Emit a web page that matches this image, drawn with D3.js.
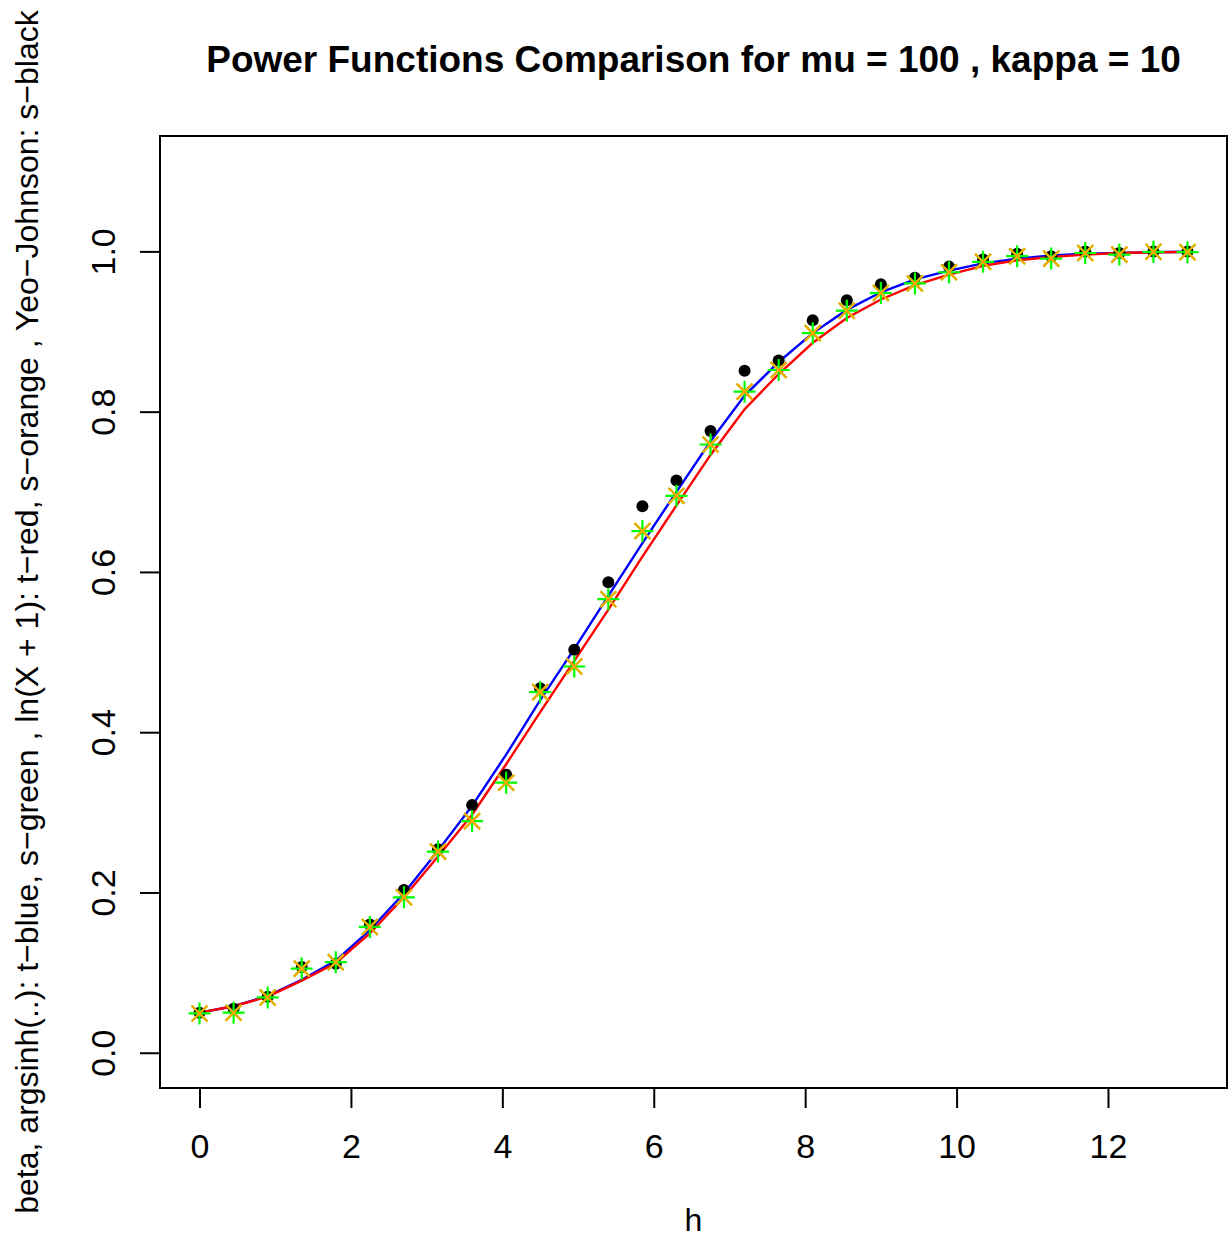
<!DOCTYPE html>
<html>
<head>
<meta charset="utf-8">
<script src="https://cdn.jsdelivr.net/npm/d3@7"></script>
<style>
  html, body { margin: 0; padding: 0; background: #fff; }
  svg { display: block; }
  text { font-family: "Liberation Sans", Arial, Helvetica, sans-serif; fill: #000; }
</style>
</head>
<body>
<svg id="chart" width="1228" height="1239"></svg>
<script>
// Shift values h at which the power functions were evaluated
const h = [0, 0.45, 0.9, 1.35, 1.8, 2.25, 2.7, 3.15, 3.6, 4.05, 4.5, 4.95, 5.4, 5.85, 6.3,
           6.75, 7.2, 7.65, 8.1, 8.55, 9, 9.45, 9.9, 10.35, 10.8, 11.25, 11.7, 12.15, 12.6, 13.05];

// Theoretical power, argsinh transform (blue line)
const theoryArgsinh = [0.050, 0.058, 0.071, 0.091, 0.115, 0.153, 0.199, 0.252, 0.308, 0.372,
                       0.440, 0.504, 0.570, 0.636, 0.700, 0.763, 0.820, 0.862, 0.898, 0.927,
                       0.949, 0.965, 0.976, 0.985, 0.991, 0.995, 0.997, 0.998, 0.999, 0.9995];

// Theoretical power, ln(X + 1) transform (red line)
const theoryLog = [0.050, 0.058, 0.070, 0.090, 0.112, 0.149, 0.194, 0.245, 0.297, 0.360,
                   0.425, 0.489, 0.553, 0.619, 0.683, 0.746, 0.803, 0.847, 0.886, 0.917,
                   0.940, 0.958, 0.971, 0.982, 0.989, 0.993, 0.996, 0.998, 0.999, 0.9993];

// Simulated power, argsinh transform (green)
const simArgsinh = [0.049, 0.050, 0.069, 0.105, 0.113, 0.157, 0.194, 0.251, 0.289, 0.337,
                    0.450, 0.482, 0.566, 0.651, 0.695, 0.759, 0.825, 0.852, 0.898, 0.926,
                    0.948, 0.960, 0.974, 0.987, 0.994, 0.991, 0.998, 0.996, 0.9995, 0.999];

// Simulated power, ln(X + 1) transform (orange)
const simLog = [0.049, 0.050, 0.069, 0.105, 0.113, 0.157, 0.194, 0.251, 0.289, 0.337,
                0.450, 0.482, 0.566, 0.651, 0.695, 0.759, 0.825, 0.852, 0.898, 0.926,
                0.948, 0.960, 0.974, 0.987, 0.994, 0.991, 0.998, 0.996, 0.9995, 0.999];

// Simulated power, Yeo-Johnson transform (black)
const simYeoJohnson = [0.050, 0.055, 0.070, 0.107, 0.111, 0.160, 0.203, 0.254, 0.309, 0.347,
                       0.455, 0.503, 0.587, 0.682, 0.714, 0.776, 0.851, 0.864, 0.914, 0.939,
                       0.959, 0.967, 0.981, 0.990, 0.997, 0.994, 1.000, 0.998, 1.000, 1.000];

const xTicks = [0, 2, 4, 6, 8, 10, 12];
const yTicks = [0, 0.2, 0.4, 0.6, 0.8, 1.0];

const titleText = "Power Functions Comparison for mu = 100 , kappa = 10";
const xLabel = "h";
const yLabel = "beta, argsinh(..): t\u2212blue, s\u2212green , ln(X + 1): t\u2212red, s\u2212orange , Yeo\u2212Johnson: s\u2212black";

// Plot region
const plot = { left: 160, right: 1227, top: 136, bottom: 1088 };

// Domains padded by 4% as in a base-graphics plot
const xDom = [0, 13.05], yDom = [0, 1.1];
const xPad = (xDom[1] - xDom[0]) * 0.04, yPad = (yDom[1] - yDom[0]) * 0.04;

const x = d3.scaleLinear().domain([xDom[0] - xPad, xDom[1] + xPad]).range([plot.left, plot.right]);
const y = d3.scaleLinear().domain([yDom[0] - yPad, yDom[1] + yPad]).range([plot.bottom, plot.top]);

const svg = d3.select("#chart");
svg.append("rect").attr("width", 1228).attr("height", 1239).attr("fill", "#fff");

const tickFont = 34;
const labelFont = 32;

// Lines
const line = (vals) => d3.line().x((d, i) => x(h[i])).y(d => y(d))(vals);
svg.append("path").attr("d", line(theoryArgsinh))
  .attr("fill", "none").attr("stroke", "#0000ff").attr("stroke-width", 2.4);
svg.append("path").attr("d", line(theoryLog))
  .attr("fill", "none").attr("stroke", "#ff0000").attr("stroke-width", 2.4);

// Yeo-Johnson points (filled dots)
svg.append("g").selectAll("circle").data(simYeoJohnson).join("circle")
  .attr("cx", (d, i) => x(h[i])).attr("cy", d => y(d)).attr("r", 6).attr("fill", "#000");

// argsinh points (green asterisks)
const gGreen = svg.append("g").attr("stroke", "#00ff00").attr("stroke-width", 2.2);
simArgsinh.forEach((d, i) => {
  const cx = x(h[i]), cy = y(d), a = 11, b = 7.8;
  gGreen.append("path").attr("d",
    `M${cx - a},${cy}H${cx + a}M${cx},${cy - a}V${cy + a}` +
    `M${cx - b},${cy - b}L${cx + b},${cy + b}M${cx - b},${cy + b}L${cx + b},${cy - b}`);
});

// ln(X + 1) points (orange crosses)
const gOrange = svg.append("g").attr("stroke", "#ffa500").attr("stroke-width", 2.2);
simLog.forEach((d, i) => {
  const cx = x(h[i]), cy = y(d), b = 8;
  gOrange.append("path").attr("d",
    `M${cx - b},${cy - b}L${cx + b},${cy + b}M${cx - b},${cy + b}L${cx + b},${cy - b}`);
});

// Plot box
svg.append("rect")
  .attr("x", plot.left).attr("y", plot.top)
  .attr("width", plot.right - plot.left).attr("height", plot.bottom - plot.top)
  .attr("fill", "none").attr("stroke", "#000").attr("stroke-width", 2);

// X axis
const xAxis = d3.axisBottom(x).tickValues(xTicks).tickSize(20).tickPadding(26)
  .tickFormat(d3.format("d"));
const gx = svg.append("g").attr("transform", `translate(0,${plot.bottom})`).call(xAxis);
gx.select(".domain").attr("d", `M${x(xTicks[0])},0H${x(xTicks[xTicks.length - 1])}`)
  .attr("stroke-width", 2);
gx.selectAll(".tick line").attr("stroke-width", 2);
gx.selectAll(".tick text").attr("font-size", tickFont).attr("font-family", "Liberation Sans, Arial, sans-serif")
  .attr("fill", "#000").attr("dy", "0.71em");

// Y axis with rotated labels
const yAxis = d3.axisLeft(y).tickValues(yTicks).tickSize(20).tickFormat(d3.format(".1f"));
const gy = svg.append("g").attr("transform", `translate(${plot.left},0)`).call(yAxis);
gy.select(".domain").attr("d", `M0,${y(yTicks[0])}V${y(yTicks[yTicks.length - 1])}`)
  .attr("stroke-width", 2);
gy.selectAll(".tick line").attr("stroke-width", 2);
gy.selectAll(".tick text")
  .attr("font-size", tickFont).attr("font-family", "Liberation Sans, Arial, sans-serif").attr("fill", "#000")
  .attr("x", null).attr("dy", null)
  .attr("text-anchor", "middle")
  .attr("transform", "translate(-45,0) rotate(-90)")
  .attr("y", 0);

// Title
svg.append("text").attr("x", (plot.left + plot.right) / 2).attr("y", 72)
  .attr("text-anchor", "middle").attr("font-size", 37).attr("font-weight", "bold")
  .text(titleText);

// Axis titles
svg.append("text").attr("x", (plot.left + plot.right) / 2).attr("y", 1231)
  .attr("text-anchor", "middle").attr("font-size", labelFont).text(xLabel);
svg.append("text").attr("transform", `translate(38,${(plot.top + plot.bottom) / 2}) rotate(-90)`)
  .attr("text-anchor", "middle").attr("font-size", labelFont).text(yLabel);
</script>
</body>
</html>
